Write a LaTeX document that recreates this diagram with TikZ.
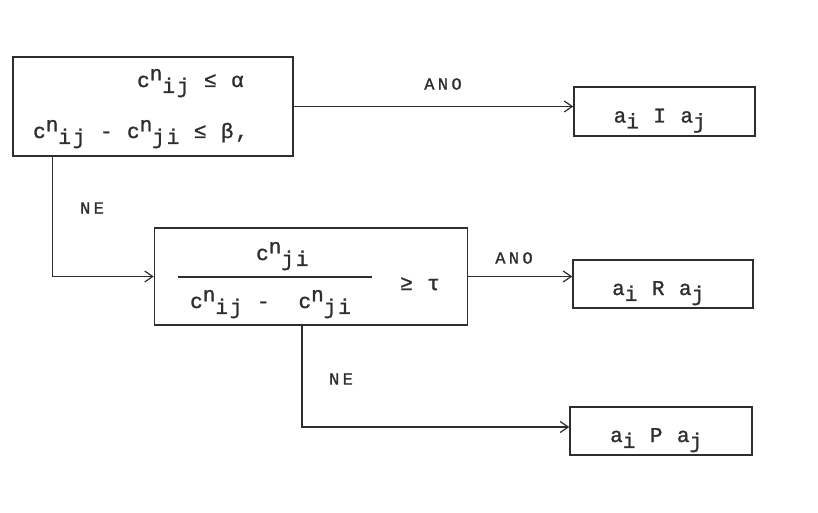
\documentclass[tikz,border=0pt]{standalone}
\usepackage{fontspec}
\setmonofont{Liberation Mono}[LetterSpace=9,FakeBold=1.2]
\usetikzlibrary{arrows.meta}
\definecolor{ink}{HTML}{2E2E2E}
\newcommand\sbx[1]{\raisebox{-0.28em}{#1}}
\newcommand\spx[1]{\raisebox{0.32em}{#1}}
\newcommand\cnx[1]{c\spx{n}\sbx{#1}}
\begin{document}
\begin{tikzpicture}[x=1pt,y=-1pt,
  box/.style={draw=ink, line width=1.5pt, inner sep=0pt},
  txt/.style={inner sep=0pt, text=ink, font=\ttfamily\fontsize{21}{24}\selectfont},
  lbl/.style={inner sep=0pt, text=ink, font=\ttfamily\fontsize{17}{20}\selectfont\addfontfeature{LetterSpace=20}},
  conn/.style={draw=ink, line width=1.3pt, -{Straight Barb[length=8pt,width=11pt,line width=1.2pt]}}]
\useasboundingbox[fill=white] (0,0) rectangle (818,513);

% decision boxes
\node[box, minimum width=280pt, minimum height=99pt] (b1) at (153,106.5) {};
\node[box, minimum width=313pt, minimum height=97pt] (b2) at (311,276.5) {};

% result boxes
\node[box, minimum width=181pt, minimum height=49pt] (bI) at (664.5,111.5) {};
\node[box, minimum width=180pt, minimum height=48pt] (bR) at (663,284) {};
\node[box, minimum width=182pt, minimum height=48pt] (bP) at (661,431) {};
\node[txt, anchor=base west] (tI) at ([xshift=-51pt,yshift=-11pt]bI.center) {a\sbx{i} I a\sbx{j}};
\node[txt, anchor=base west] (tR) at ([xshift=-51pt,yshift=-11pt]bR.center) {a\sbx{i} R a\sbx{j}};
\node[txt, anchor=base west] (tP) at ([xshift=-51pt,yshift=-11pt]bP.center) {a\sbx{i} P a\sbx{j}};

% texts of box 1
\node[txt, anchor=base west] (t1a) at (137,87) {\cnx{ij} ≤ α};
\node[txt, anchor=base west] (t1b) at (33,138) {\cnx{ij} - \cnx{ji} ≤ β,};

% texts of box 2
\node[txt, anchor=base west] (num) at (256,260) {\cnx{ji}};
\node[txt, anchor=base west] (den) at (190,308) {\cnx{ij} -\ \ \cnx{ji}};
\draw[ink, line width=1.3pt] (178,277) -- (372,277);
\node[txt, anchor=base west] (ge) at (400,290) {≥ τ};

% connectors
\draw[conn] (b1.east) -- (b1.east -| bI.west);
\draw[conn] ([xshift=40pt]b1.south west) |- (b2.west);
\draw[conn] (b2.east) -- (b2.east -| bR.west);
\draw[conn] ([xshift=-9pt]b2.south) |- ([yshift=4pt]bP.west);

% labels
\node[lbl] (l1) at (443,84) {ANO};
\node[lbl] (l2) at (92,208) {NE};
\node[lbl] (l3) at (514,258) {ANO};
\node[lbl] (l4) at (341,379) {NE};
\end{tikzpicture}
\end{document}
